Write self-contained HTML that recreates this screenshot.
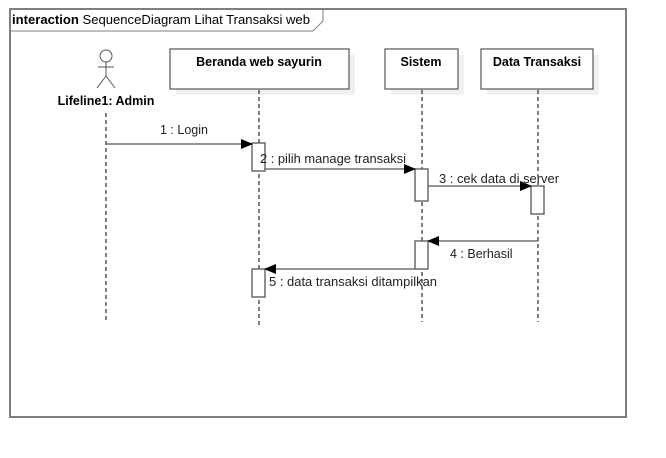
<!DOCTYPE html>
<html><head><meta charset="utf-8"><style>
html,body{margin:0;padding:0;background:#fff;}
svg{display:block;font-family:"Liberation Sans",Arial,sans-serif;}
</style></head><body>
<svg width="666" height="458" viewBox="0 0 666 458" xmlns="http://www.w3.org/2000/svg">
<defs>
<marker id="a" markerWidth="12" markerHeight="10" refX="11" refY="5" orient="auto" markerUnits="userSpaceOnUse">
<path d="M0,0 L12,5 L0,10 Z" fill="#000"/></marker>
</defs>
<rect x="10" y="9" width="616" height="408" fill="#fff" stroke="#7f7f7f" stroke-width="2"/>
<path d="M10,31 L313,31 L323,21 L323,9" fill="none" stroke="#7f7f7f" stroke-width="1"/>
<text x="12" y="24" font-size="13" textLength="298" lengthAdjust="spacingAndGlyphs"><tspan font-weight="bold">interaction</tspan> SequenceDiagram Lihat Transaksi web</text>

<g stroke="#555" stroke-width="1" fill="none">
<circle cx="106" cy="56" r="6" fill="#fff"/>
<line x1="106" y1="62" x2="106" y2="76"/>
<line x1="98" y1="67" x2="114" y2="67"/>
<line x1="106" y1="76" x2="97" y2="88"/>
<line x1="106" y1="76" x2="115" y2="88"/>
</g>
<text x="106" y="105" font-size="12.5" font-weight="bold" text-anchor="middle">Lifeline1: Admin</text>

<g fill="#f0f0f0">
<rect x="176" y="55" width="179" height="40"/>
<rect x="391" y="55" width="73" height="40"/>
<rect x="487" y="55" width="112" height="40"/>
</g>
<g fill="#fff" stroke="#555" stroke-width="1.2">
<rect x="170" y="49" width="179" height="40"/>
<rect x="385" y="49" width="73" height="40"/>
<rect x="481" y="49" width="112" height="40"/>
</g>
<g font-size="12.5" font-weight="bold" text-anchor="middle">
<text x="259" y="66">Beranda web sayurin</text>
<text x="421" y="66">Sistem</text>
<text x="537" y="66">Data Transaksi</text>
</g>

<g stroke="#000" stroke-width="1" stroke-dasharray="4,3">
<line x1="106" y1="113" x2="106" y2="323"/>
<line x1="259" y1="90" x2="259" y2="327"/>
<line x1="422" y1="90" x2="422" y2="322"/>
<line x1="538" y1="90" x2="538" y2="322"/>
</g>

<g fill="#fff" stroke="#555" stroke-width="1.3">
<rect x="252" y="143" width="13" height="28"/>
<rect x="415" y="169" width="13" height="32"/>
<rect x="531" y="186" width="13" height="28"/>
<rect x="415" y="241" width="13" height="28"/>
<rect x="252" y="269" width="13" height="28"/>
</g>

<g stroke="#555" stroke-width="1.3" marker-end="url(#a)">
<line x1="106" y1="144" x2="252" y2="144"/>
<line x1="265" y1="169" x2="415" y2="169"/>
<line x1="428" y1="186" x2="531" y2="186"/>
<line x1="538" y1="241" x2="428" y2="241"/>
<line x1="415" y1="269" x2="265" y2="269"/>
</g>
<g font-size="12.5" fill="#222">
<text x="160" y="134">1 : Login</text>
<text x="260" y="163" textLength="146" lengthAdjust="spacingAndGlyphs">2 : pilih manage transaksi</text>
<text x="439" y="183" textLength="120" lengthAdjust="spacingAndGlyphs">3 : cek data di server</text>
<text x="450" y="258">4 : Berhasil</text>
<text x="269" y="286" textLength="168" lengthAdjust="spacingAndGlyphs">5 : data transaksi ditampilkan</text>
</g>
</svg>
</body></html>
